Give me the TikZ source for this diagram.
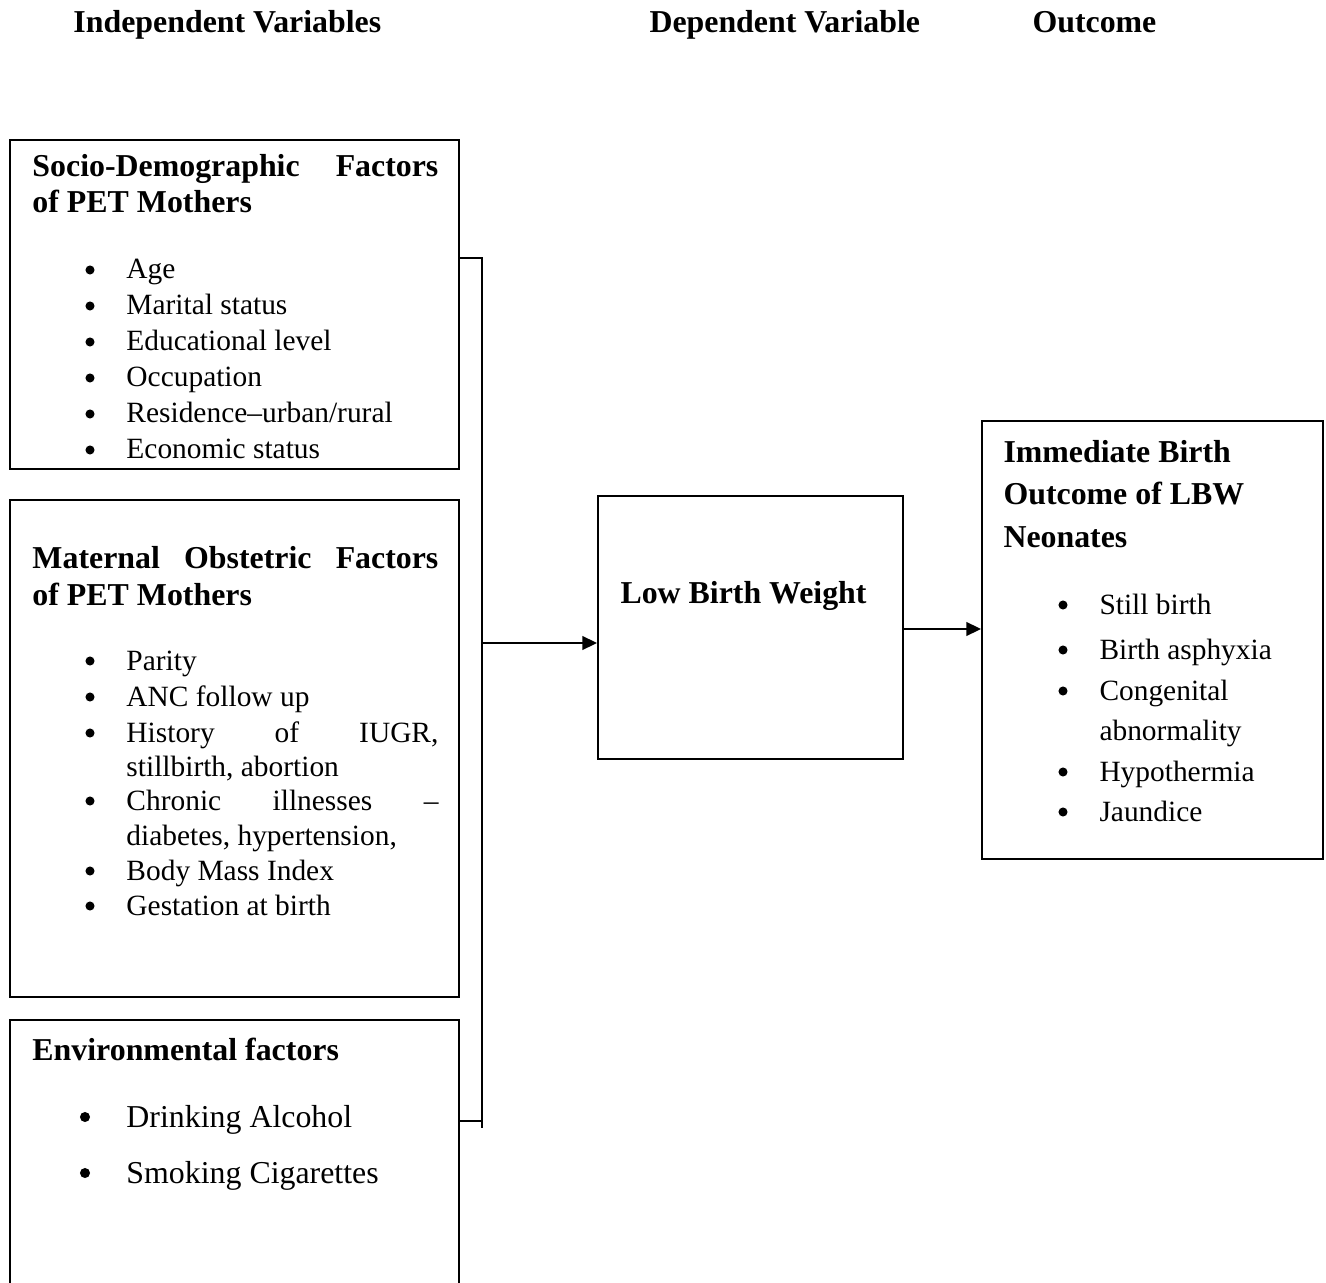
\documentclass[tikz,border=0pt]{standalone}
\usepackage{fontspec}
\setmainfont{Liberation Serif}
\usetikzlibrary{arrows.meta}
\tikzset{
  box/.style={draw, line width=0.8pt, rectangle, inner sep=0pt},
  hd/.style={anchor=base west, inner sep=0pt, font=\fontsize{13}{15}\selectfont\bfseries},
  it/.style={anchor=base west, inner sep=0pt, font=\fontsize{12}{14}\selectfont},
  bigit/.style={anchor=base west, inner sep=0pt, font=\fontsize{13}{15}\selectfont},
  dot/.style={circle, fill, inner sep=0pt, minimum size=3.7pt},
  bigdot/.style={circle, fill, inner sep=0pt, minimum size=4.1pt},
  conn/.style={line width=0.8pt},
  arr/.style={line width=0.8pt, -{Triangle[length=6pt,width=5.6pt]}}
}
\begin{document}
\begin{tikzpicture}[x=0.408pt,y=-0.408pt]
\useasboundingbox (0,0) rectangle (1326,1283);
\clip (0,0) rectangle (1326,1283);
% headers
\node[hd] (h1) at (73,33) {Independent Variables};
\node[hd] (h2) at (649,33) {Dependent Variable};
\node[hd] (h3) at (1032,33) {Outcome};
% boxes
\node[box, minimum width=449*0.408pt, minimum height=329*0.408pt] (b1) at (234.5,304.5) {};
\node[box, minimum width=449*0.408pt, minimum height=497*0.408pt] (b2) at (234.5,748.5) {};
\node[box, minimum width=449*0.408pt, minimum height=300*0.408pt] (b3) at (234.5,1170) {};
\node[box, minimum width=305*0.408pt, minimum height=263*0.408pt] (lbw) at (750.5,627.5) {};
\node[box, minimum width=341*0.408pt, minimum height=438*0.408pt] (out) at (1152.5,640) {};
% box 1 text
\node[hd] (t1a) at (32,177) {\makebox[165.6pt][s]{Socio-Demographic Factors}};
\node[hd] (t1b) at (32,213) {of PET Mothers};
\foreach \y/\t [count=\i] in {279/{Age},315/{Marital status},351/{Educational level},387/{Occupation},423/{Residence–urban/rural},459/{Economic status}}{
  \node[dot] (b1d\i) at (90,\y-9) {};
  \node[it] (b1t\i) at (126,\y) {\t};
}
% box 2 text
\node[hd] (t2a) at (32,569) {\makebox[165.6pt][s]{Maternal Obstetric Factors}};
\node[hd] (t2b) at (32,605) {of PET Mothers};
\foreach \y/\t [count=\i] in {670/Parity,706/ANC follow up,880/Body Mass Index,915/Gestation at birth}{
  \node[dot] (b2d\i) at (90,\y-9) {};
  \node[it] (b2t\i) at (126,\y) {\t};
}
\node[dot] (b2d5) at (90,742-9) {};
\node[it] (b2t5) at (126,742) {\makebox[127.3pt][s]{History of IUGR,}};
\node[it] (b2t6) at (126,776) {stillbirth, abortion};
\node[dot] (b2d7) at (90,810-9) {};
\node[it] (b2t7) at (126,810) {\makebox[127.3pt][s]{Chronic illnesses –}};
\node[it] (b2t8) at (126,845) {diabetes, hypertension,};
% box 3 text
\node[hd] (t3a) at (32,1060) {Environmental factors};
\node[bigdot] (b3d1) at (85,1117) {};
\node[bigit] (b3t1) at (126,1127) {Drinking Alcohol};
\node[bigdot] (b3d2) at (85,1173) {};
\node[bigit] (b3t2) at (126,1183) {Smoking Cigarettes};
% LBW
\node[hd] (tl) at (620,603) {Low Birth Weight};
% outcome text
\node[hd] (to1) at (1003,463) {Immediate Birth};
\node[hd] (to2) at (1003,504) {Outcome of LBW};
\node[hd] (to3) at (1003,547) {Neonates};
\foreach \y/\t [count=\i] in {614/Still birth,659/Birth asphyxia,700/Congenital,781/Hypothermia,821/Jaundice}{
  \node[dot] (od\i) at (1063,\y-9) {};
  \node[it] (ot\i) at (1099,\y) {\t};
}
\node[it] (ot6) at (1099,740) {abnormality};
% connectors
\coordinate (bt) at (482,258);
\coordinate (bh) at (482,1121);
\coordinate (bb) at (482,1128);
\coordinate (ja) at (482,643);
\coordinate (jb) at (903,629);
\draw[conn] (b1.east |- bt) -- (bt) -- (bb);
\draw[conn] (b3.east |- bh) -- (bh);
\draw[arr] (ja) -- (lbw.west |- ja);
\draw[arr] (lbw.east |- jb) -- (out.west |- jb);
\end{tikzpicture}
\end{document}
